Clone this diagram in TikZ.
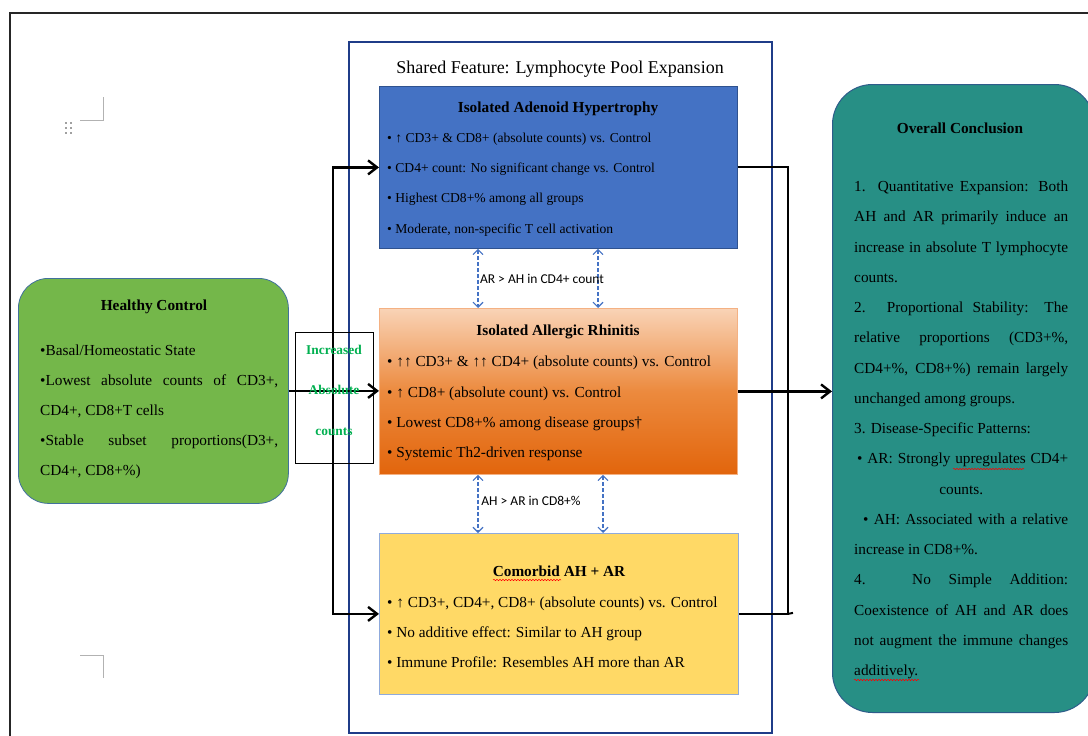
\documentclass[tikz,border=0pt]{standalone}
\usepackage{fontspec}
\setmainfont{Liberation Serif}
\newfontfamily\carlito{Carlito}
\usetikzlibrary{arrows.meta,decorations.pathmorphing}
\definecolor{hcgreen}{HTML}{74B74A}
\definecolor{hcborder}{HTML}{41719C}
\definecolor{ahblue}{HTML}{4472C4}
\definecolor{ahborder}{HTML}{2F528F}
\definecolor{arlight}{HTML}{F9D3B6}
\definecolor{armid}{HTML}{EC8A3E}
\definecolor{ardark}{HTML}{E2650C}
\definecolor{arborder}{HTML}{F4B183}
\definecolor{cyellow}{HTML}{FFD966}
\definecolor{cborder}{HTML}{8FAADC}
\definecolor{concteal}{HTML}{278F85}
\definecolor{concborder}{HTML}{2E5C8A}
\definecolor{sharednavy}{HTML}{1F3C88}
\definecolor{incgreen}{HTML}{00B050}
\definecolor{dashblue}{HTML}{4472C4}
\newcommand\jl[2]{\makebox[#1][s]{#2}}
\newcommand\fsz[2]{\fontsize{#1}{#2}\selectfont}
\begin{document}
\begin{tikzpicture}[x=1pt,y=-1pt,
  box/.style={draw, line width=0.8pt, anchor=north west, inner sep=0pt},
  bodytxt/.style={anchor=west, align=left, inner sep=0pt},
  ttl/.style={inner sep=0pt, font=\bfseries\fsz{15.3}{18}},
  arr/.style={line width=2.4pt, -{Straight Barb[length=9pt,width=14pt]}},
  bracket/.style={line width=2pt},
  dasharr/.style={draw=dashblue, line width=1.1pt, dash pattern=on 3.5pt off 2.5pt,
     {Straight Barb[length=5pt,width=10pt]}-{Straight Barb[length=5pt,width=10pt]}},
  cmp/.style={inner sep=0pt, font=\carlito\fsz{13.5}{15}},
  wavy/.style={draw=red, line width=0.5pt, decorate, decoration={snake, segment length=3pt, amplitude=0.7pt}},
  artifact/.style={draw=black!30, line width=0.8pt}]
\useasboundingbox (0,0) rectangle (1088,736);
\clip (0,0) rectangle (1088,736);
\fill[white] (0,0) rectangle (1088,736);

% outer frame
\draw[line width=1.8pt, black!85] (10,760) -- (10,13) -- (1100,13);

% word artifacts
\foreach \xx in {66,71} \foreach \yy in {123,128,133} \fill[black!75] (\xx,\yy) circle (0.9pt);
\draw[artifact] (80,120) -- (103,120) -- (103,97);
\draw[artifact] (80,655) -- (103,655) -- (103,678);

% shared feature frame
\node[box, draw=sharednavy, line width=1.6pt, minimum width=423pt, minimum height=691pt] (shared) at (348,41) {};
\node[inner sep=0pt, font=\fsz{18}{20}] (sharedttl) at (560,69) {Shared Feature: Lymphocyte Pool Expansion};

% boxes
\node[box, fill=ahblue, draw=ahborder, minimum width=358pt, minimum height=162pt] (ah) at (379,86) {};
\node[box, draw=arborder, top color=arlight, bottom color=ardark, middle color=armid, minimum width=358pt, minimum height=166pt] (ar) at (379,308) {};
\node[box, fill=cyellow, draw=cborder, minimum width=359pt, minimum height=161pt] (cm) at (379,533) {};
\node[box, fill=hcgreen, draw=hcborder, rounded corners=30pt, minimum width=270pt, minimum height=225pt] (hc) at (18,278) {};
\node[box, fill=concteal, draw=concborder, line width=1pt, rounded corners=40pt, minimum width=262pt, minimum height=628pt] (oc) at (832,84) {};
\node[box, draw=black, line width=0.7pt, minimum width=78pt, minimum height=131pt] (incbox) at (295,332) {};

% connectors
\coordinate (trunk) at (333,390);
\draw[arr] (trunk) |- (ah.west);
\draw[arr] (trunk) |- (cm.west);
\draw[arr] (hc.east) -- (hc.east -| ar.west);
\coordinate (rb) at (788,390);
\draw[bracket] (ah.east) -| (rb) |- (cm.east);
\draw[bracket] (cm.east -| rb) -- ++(5,-1);
\draw[arr] (ar.east) -- (ar.east -| oc.west);

\coordinate (xa) at (478,0);
\coordinate (xb) at (598,0);
\coordinate (xc) at (603,0);
\draw[dasharr] (ah.south -| xa) -- (ar.north -| xa);
\draw[dasharr] (ah.south -| xb) -- (ar.north -| xb);
\draw[dasharr] (ar.south -| xa) -- (cm.north -| xa);
\draw[dasharr] (ar.south -| xc) -- (cm.north -| xc);
\node[cmp] (lab1) at (542,279) {AR > AH in CD4+ count};
\node[cmp] (lab2) at (531,501) {AH > AR in CD8+\%};

% increased absolute counts
\node[inner sep=0pt, align=center, text=incgreen, font=\bfseries\fsz{13.4}{40.5}] (inctxt) at (334,390) {Increased\\Absolute\\counts};

% texts: adenoid
\node[ttl] (ahttl) at (558,109) {Isolated Adenoid Hypertrophy};
\node[bodytxt, font=\fsz{13.6}{30.3}] (ahbody) at (387,184.5) {%
• ↑ CD3+ \& CD8+ (absolute counts) vs. Control\\
• CD4+ count: No significant change vs. Control\\
• Highest CD8+\% among all groups\\
• Moderate, non-specific T cell activation};

% allergic rhinitis
\node[ttl] (arttl) at (558,332) {Isolated Allergic Rhinitis};
\node[bodytxt, font=\fsz{15.3}{30.3}] (arbody) at (387,408.5) {%
• ↑↑ CD3+ \& ↑↑ CD4+ (absolute counts) vs. Control\\
• ↑ CD8+ (absolute count) vs. Control\\
• Lowest CD8+\% among disease groups†\\
• Systemic Th2-driven response};

% comorbid
\node[ttl] (cmttl) at (559,571) {Comorbid AH + AR};
\node[bodytxt, font=\fsz{15.3}{30}] (cmbody) at (387,632) {%
• ↑ CD3+, CD4+, CD8+ (absolute counts) vs. Control\\
• No additive effect: Similar to AH group\\
• Immune Profile: Resembles AH more than AR};

% healthy control
\node[ttl] (hcttl) at (154,307) {Healthy Control};
\node[bodytxt, font=\fsz{15.3}{30}] (hcbody) at (40,412) {%
•Basal/Homeostatic State\\
\jl{238pt}{•Lowest absolute counts of CD3+,}\\
CD4+, CD8+T cells\\
\jl{238pt}{•Stable subset proportions(D3+,}\\
CD4+, CD8+\%)};

% overall conclusion
\node[ttl] (octtl) at (960,128) {Overall Conclusion};
\node[bodytxt, font=\fsz{15.3}{30.25}] (ocbody) at (854,430) {%
\jl{214pt}{1. Quantitative Expansion: Both}\\
\jl{214pt}{AH and AR primarily induce an}\\
\jl{214pt}{increase in absolute T lymphocyte}\\
counts.\\
\jl{214pt}{2. Proportional Stability: The}\\
\jl{214pt}{relative proportions (CD3+\%,}\\
\jl{214pt}{CD4+\%, CD8+\%) remain largely}\\
unchanged among groups.\\
3. Disease-Specific Patterns:\\
\hspace*{3pt}\jl{211pt}{• AR: Strongly upregulates CD4+}\\
\makebox[214pt]{counts.}\\
\hspace*{9pt}\jl{205pt}{• AH: Associated with a relative}\\
increase in CD8+\%.\\
\jl{214pt}{4. No Simple Addition:}\\
\jl{214pt}{Coexistence of AH and AR does}\\
\jl{214pt}{not augment the immune changes}\\
additively.};

% spell-check underlines
\draw[wavy] (493,580) -- (561,580);
\draw[wavy] (953,469) -- (1024,469);
\draw[wavy] (854,680) -- (919,680);
\end{tikzpicture}
\end{document}
